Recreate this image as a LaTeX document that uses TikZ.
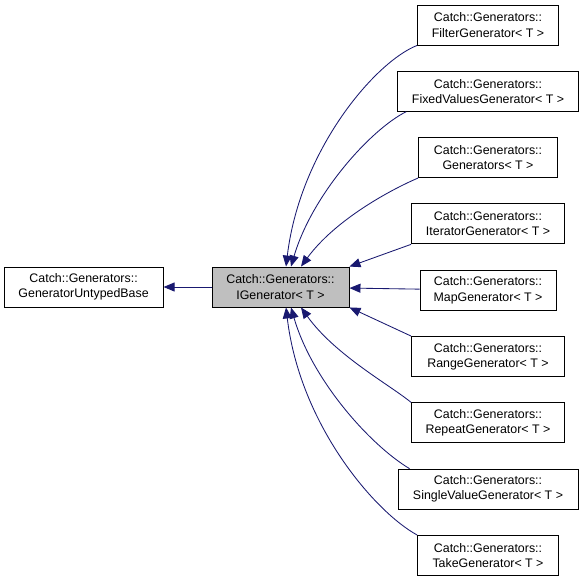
\documentclass[tikz,border=0pt]{standalone}
\usepackage{fontspec}
\setmainfont{Liberation Sans}
\usetikzlibrary{arrows.meta,positioning}
\definecolor{edgeblue}{HTML}{191970}
\definecolor{activegrey}{HTML}{BFBFBF}

\begin{document}
\begin{tikzpicture}[
  x=1pt,y=-1pt,
  node distance=25.4pt and 48pt,
  cls/.style={draw=black,line width=0.9pt,fill=white,align=center,
              minimum height=40pt,inner sep=0pt,
              font=\fontsize{12.4}{15.2}\selectfont},
  current/.style={cls,fill=activegrey},
  edge/.style={-{Triangle[length=11pt,width=9pt]},line width=0.85pt,draw=edgeblue}
]
\useasboundingbox (0,0) rectangle (585,575);

\node[current,minimum width=137pt] (igen) at (280.5,287) {Catch::Generators::\\IGenerator< T >};
\node[cls,minimum width=159pt,left=of igen] (base) {Catch::Generators::\\GeneratorUntypedBase};

\node[cls,minimum width=141pt] (filter) at (488,25) {Catch::Generators::\\FilterGenerator< T >};
\node[cls,minimum width=181pt,below=of filter] (fixed) {Catch::Generators::\\FixedValuesGenerator< T >};
\node[cls,minimum width=139pt,below=of fixed] (gens) {Catch::Generators::\\Generators< T >};
\node[cls,minimum width=153pt,below=of gens] (iter) {Catch::Generators::\\IteratorGenerator< T >};
\node[cls,minimum width=136pt,below=of iter] (map) {Catch::Generators::\\MapGenerator< T >};
\node[cls,minimum width=153pt,below=of map] (range) {Catch::Generators::\\RangeGenerator< T >};
\node[cls,minimum width=153pt,below=of range] (repeat) {Catch::Generators::\\RepeatGenerator< T >};
\node[cls,minimum width=180pt,below=of repeat] (single) {Catch::Generators::\\SingleValueGenerator< T >};
\node[cls,minimum width=141pt,below=of single] (take) {Catch::Generators::\\TakeGenerator< T >};

\draw[edge] (igen) -- (base);
\draw[edge] (filter.south west) .. controls (375,62) and (300,150) .. ([xshift=5.5pt]igen.north);
\draw[edge] ([xshift=9pt]fixed.south west) .. controls (370,130) and (312,195) .. ([xshift=10.5pt]igen.north);
\draw[edge] (gens.south west) .. controls (390,190) and (335,220) .. ([xshift=20.5pt]igen.north);
\draw[edge] (iter.south west) -- (igen.north east);
\draw[edge] (map) -- (igen);
\draw[edge] (range.north west) -- (igen.south east);
\draw[edge] (repeat.north west) .. controls (390,385) and (335,355) .. ([xshift=20.5pt]igen.south);
\draw[edge] ([xshift=12pt]single.north west) .. controls (370,445) and (312,380) .. ([xshift=10.5pt]igen.south);
\draw[edge] (take.north west) .. controls (375,512) and (300,425) .. ([xshift=5.5pt]igen.south);
\end{tikzpicture}
\end{document}
